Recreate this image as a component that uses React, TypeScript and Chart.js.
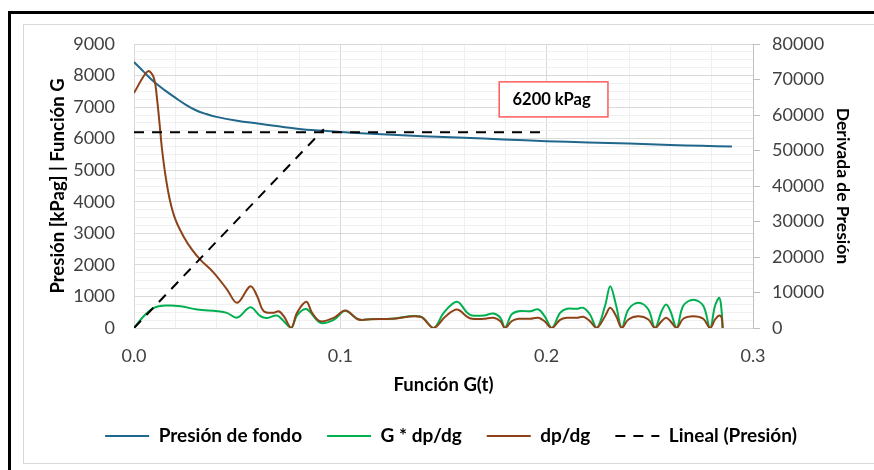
import { useEffect, useRef } from 'react';
import { Chart, registerables } from 'chart.js';

Chart.register(...registerables);

const FONT = 'Lato';

// Presión de fondo (kPag) vs Función G
const presionG = [0, 0.005, 0.0094, 0.015, 0.02, 0.025, 0.03, 0.035, 0.04, 0.05, 0.06, 0.07, 0.08, 0.09, 0.1, 0.12, 0.14, 0.16, 0.179, 0.2, 0.22, 0.24, 0.26, 0.275, 0.2898];
const presionFondo = [8430, 8100, 7820, 7530, 7300, 7080, 6900, 6780, 6690, 6570, 6480, 6390, 6310, 6255, 6210, 6140, 6080, 6030, 5975, 5920, 5880, 5846, 5800, 5775, 5750];

// G * dp/dg (left axis)
const gdpG = [
  0, 0.0047, 0.0096, 0.016, 0.0225, 0.0306, 0.0403, 0.045, 0.05, 0.0564, 0.0613, 0.0645, 0.0693, 0.0726, 0.0762,
  0.079, 0.0835, 0.0903, 0.0968, 0.1024, 0.1089, 0.115, 0.125, 0.1388, 0.1452,
  0.1501, 0.1565, 0.1615, 0.1638, 0.1695, 0.1742, 0.1776, 0.1798,
  0.183, 0.1863, 0.192, 0.196, 0.199, 0.2025,
  0.2065, 0.2098, 0.2146, 0.2178, 0.221, 0.2243,
  0.2283, 0.2308, 0.2337, 0.2364,
  0.2396, 0.2445, 0.2493, 0.2525,
  0.2557, 0.2579, 0.26, 0.263,
  0.2662, 0.2711, 0.2759, 0.2792,
  0.2816, 0.2837, 0.2847, 0.2853,
];
const gdpdg = [
  0, 374, 640, 713, 691, 586, 532, 480, 330, 655, 374, 320, 396, 215, 0,
  400, 600, 165, 260, 545, 269, 285, 295, 365, 0,
  481, 830, 481, 396, 396, 459, 323, 0,
  428, 532, 532, 586, 374, 0,
  481, 608, 608, 640, 428, 0,
  703, 1324, 703, 0,
  586, 798, 586, 0,
  532, 745, 532, 0,
  703, 897, 703, 0,
  703, 957, 600, 0,
];

// dp/dg (right axis)
const dpdgG = [
  0, 0.0067, 0.0096, 0.0112, 0.0125, 0.0136, 0.0153, 0.0174, 0.0201, 0.024, 0.0282, 0.0322, 0.0387, 0.0451, 0.05,
  0.0564, 0.0597, 0.0629, 0.0677, 0.0701, 0.0726, 0.0762, 0.079, 0.0835, 0.0863, 0.0903, 0.0968, 0.1024, 0.1089,
  0.115, 0.125, 0.1388, 0.1452,
  0.1508, 0.1565, 0.1615, 0.1638, 0.1695, 0.1742, 0.1776, 0.1798,
  0.183, 0.1863, 0.192, 0.196, 0.199, 0.2025,
  0.2065, 0.2098, 0.2146, 0.2178, 0.221, 0.2243,
  0.2283, 0.2308, 0.2337, 0.2364,
  0.2396, 0.2445, 0.2493, 0.2525,
  0.2557, 0.2579, 0.26, 0.263,
  0.2662, 0.2711, 0.2759, 0.2792,
  0.2816, 0.2837, 0.2848, 0.2853,
];
const dpdg = [
  66240, 72330, 70470, 64360, 56840, 50280, 42760, 36000, 30500, 25800, 22000, 19200, 15550, 10840, 7090,
  11770, 8960, 4730, 4280, 4730, 3320, 0, 4280, 7380, 4280, 1910, 2870, 4920, 2390,
  2490, 2580, 3160, 0,
  3160, 5210, 3160, 2590, 2590, 2870, 1910, 0,
  1910, 2590, 2590, 2870, 1910, 0,
  2290, 2870, 2870, 3160, 1910, 0,
  3320, 5690, 3320, 0,
  2390, 3320, 2390, 0,
  1910, 2870, 1910, 0,
  2590, 3320, 2590, 0,
  2390, 3520, 2870, 0,
];

// Lineal (Presión): closure level and straight-line fit through the origin
const nivelCierre = 6200;
const linealG = [0, 0.2, 0.2, 0, 0.092];
const linealP = [nivelCierre, nivelCierre, null, 0, 6300];

const xMajor = 0.1;
const leftMajor = 1000;

const pts = (xs: number[], ys: (number | null)[]) => xs.map((x, i) => ({ x, y: ys[i] }));

const isMajor = (v: number, step: number) => Math.abs(v / step - Math.round(v / step)) < 1e-6;

const noteBox = {
  id: 'noteBox',
  afterDraw(chart: any) {
    const { ctx, scales } = chart;
    const x = scales.x;
    const y = scales.y;
    const l = x.getPixelForValue(0.177);
    const r = x.getPixelForValue(0.2297);
    const t = y.getPixelForValue(7800);
    const b = y.getPixelForValue(6690);
    ctx.save();
    ctx.fillStyle = '#ffffff';
    ctx.fillRect(l, t, r - l, b - t);
    ctx.strokeStyle = '#FF5B5B';
    ctx.lineWidth = 1.5;
    ctx.strokeRect(l, t, r - l, b - t);
    ctx.font = `bold 16.5px ${FONT}`;
    ctx.fillStyle = '#000000';
    ctx.textAlign = 'center';
    ctx.textBaseline = 'middle';
    ctx.fillText(`${nivelCierre} kPag`, (l + r) / 2 - 2, (t + b) / 2);
    ctx.restore();
  },
};

export default function App() {
  const ref = useRef<HTMLCanvasElement>(null);

  useEffect(() => {
    const tickFont = { family: FONT, size: 18 };
    const titleFont = { family: FONT, size: 18.5, weight: 'bold' as const };
    const rightTitleFont = { family: FONT, size: 17.5, weight: 'bold' as const };
    const legendFont = { family: FONT, size: 19, weight: 'bold' as const };
    const chart = new Chart(ref.current!, {
      type: 'line',
      data: {
        datasets: [
          {
            label: 'Presión de fondo',
            data: pts(presionG, presionFondo),
            borderColor: '#21678C',
            backgroundColor: '#21678C',
            borderWidth: 2,
            pointRadius: 0,
            tension: 0.4,
            yAxisID: 'y',
            order: 3,
          },
          {
            label: 'G * dp/dg',
            data: pts(gdpG, gdpdg),
            borderColor: '#00B050',
            backgroundColor: '#00B050',
            borderWidth: 2,
            pointRadius: 0,
            tension: 0.35,
            yAxisID: 'y',
            order: 2,
          },
          {
            label: 'dp/dg',
            data: pts(dpdgG, dpdg),
            borderColor: '#8E4218',
            backgroundColor: '#8E4218',
            borderWidth: 2,
            pointRadius: 0,
            tension: 0.35,
            yAxisID: 'y1',
            order: 1,
          },
          {
            label: 'Lineal (Presión)',
            data: pts(linealG, linealP),
            borderColor: '#000000',
            backgroundColor: '#000000',
            borderWidth: 2,
            borderDash: [10, 8],
            pointRadius: 0,
            tension: 0,
            spanGaps: false,
            yAxisID: 'y',
            order: 0,
          },
        ],
      },
      options: {
        responsive: false,
        animation: false,
        layout: { padding: { left: 40, right: 12, top: 44, bottom: 14.5 } },
        plugins: {
          tooltip: { enabled: false },
          legend: {
            position: 'bottom',
            labels: {
              usePointStyle: true,
              pointStyle: 'line',
              pointStyleWidth: 44,
              font: legendFont,
              color: '#000000',
              padding: 25,
              sort: (a: any, b: any) => a.datasetIndex - b.datasetIndex,
              generateLabels: (chart: any) =>
                Chart.defaults.plugins.legend.labels.generateLabels(chart).map((item: any) => {
                  const ds = chart.data.datasets[item.datasetIndex];
                  return { ...item, lineDash: ds.borderDash || [], lineWidth: ds.borderWidth };
                }),
            },
          },
        },
        scales: {
          x: {
            type: 'linear',
            min: 0,
            max: 0.3,
            ticks: {
              stepSize: 0.02,
              autoSkip: false,
              maxRotation: 0,
              padding: 17,
              color: '#404040',
              font: tickFont,
              callback: (v: any) => (isMajor(Number(v), xMajor) ? Number(v).toFixed(1) : ''),
            },
            grid: {
              color: (c: any) => (c.tick && isMajor(c.tick.value, xMajor) ? '#D9D9D9' : '#F0F0F0'),
              drawTicks: false,
            },
            border: { color: '#D9D9D9' },
            title: {
              display: true,
              text: 'Función G(t)',
              font: titleFont,
              color: '#000000',
              padding: { top: 0, bottom: 5.4 },
            },
            afterFit: (s: any) => {
              s.height = 73.5;
            },
          },
          y: {
            type: 'linear',
            position: 'left',
            min: 0,
            max: 9000,
            ticks: {
              stepSize: 250,
              autoSkip: false,
              padding: 19,
              color: '#404040',
              font: tickFont,
              callback: (v: any) => (isMajor(Number(v), leftMajor) ? String(v) : ''),
            },
            grid: {
              color: (c: any) => (c.tick && isMajor(c.tick.value, leftMajor) ? '#D9D9D9' : '#F0F0F0'),
              drawTicks: false,
            },
            border: { color: '#D9D9D9' },
            title: {
              display: true,
              text: 'Presión [kPag] | Función G',
              font: titleFont,
              color: '#000000',
              padding: { top: 7, bottom: 0 },
            },
            afterFit: (s: any) => {
              s.width = 94;
            },
          },
          y1: {
            type: 'linear',
            position: 'right',
            min: 0,
            max: 80000,
            ticks: {
              stepSize: 10000,
              autoSkip: false,
              padding: 12,
              color: '#404040',
              font: tickFont,
              callback: (v: any) => String(v),
            },
            grid: {
              drawOnChartArea: false,
              drawTicks: true,
              tickLength: 7,
              color: '#BFBFBF',
            },
            border: { color: '#BFBFBF' },
            title: {
              display: true,
              text: 'Derivada de Presión',
              font: rightTitleFont,
              color: '#000000',
              padding: { top: 8.5, bottom: 0 },
            },
            afterFit: (s: any) => {
              s.width = 109;
            },
          },
        },
      },
      plugins: [noteBox],
    });
    return () => chart.destroy();
  }, []);

  return (
    <div
      style={{
        position: 'absolute',
        left: 0,
        top: 0,
        width: 874,
        height: 470,
        background: '#ffffff',
        overflow: 'hidden',
      }}
    >
      <div
        style={{
          position: 'absolute',
          left: 8,
          top: 11,
          width: 900,
          height: 500,
          borderTop: '3px solid #000000',
          borderLeft: '3px solid #000000',
        }}
      />
      <div
        style={{
          position: 'absolute',
          left: 23,
          top: 24,
          width: 900,
          height: 438,
          border: '1px solid #D9D9D9',
        }}
      />
      <canvas ref={ref} width={874} height={470} style={{ position: 'absolute', left: 0, top: 0 }} />
    </div>
  );
}
